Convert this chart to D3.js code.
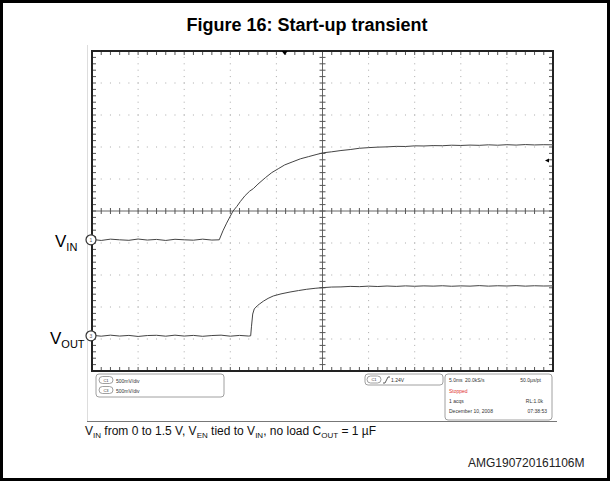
<!DOCTYPE html>
<html><head><meta charset="utf-8">
<script src="https://cdn.jsdelivr.net/npm/d3@7"></script>
<style>body{margin:0;background:#fff} text{font-family:Arial,"Liberation Sans",sans-serif}</style>
</head><body><svg id="c" width="612" height="484"></svg>
<script>
// ---- data (time in ms, 5 ms/div; volts, 500 mV/div) ----
const timeGrid = [0,5,10,15,20,25,30,35,40,45,50];
const divGrid = [-5,-4,-3,-2,-1,0,1,2,3,4,5];
const vinTime = [0,1,2,3,4,5,6,7,8,9,10,11,12,13,13.8,14.2,14.6,15.0,15.3,15.7,16.1,16.6,17.1,17.5,18.0,18.8,19.5,20.2,20.9,21.7,22.6,23.5,24.4,25.1,26,27,28,29,30,31,32,33,34,35,36,37,38,39,40,41,42,43,44,45,46,47,48,49,50];
const vinVolts = [0.005,-0.01,0.01,0,-0.008,0.012,-0.004,0.006,-0.01,0.008,0,-0.006,0.01,-0.004,0.0,0.14,0.26,0.37,0.45,0.52,0.6,0.69,0.76,0.8,0.87,0.97,1.05,1.11,1.17,1.215,1.265,1.3,1.335,1.36,1.375,1.395,1.41,1.43,1.44,1.448,1.452,1.46,1.458,1.468,1.466,1.472,1.47,1.478,1.474,1.48,1.476,1.484,1.478,1.486,1.48,1.488,1.482,1.486,1.484];
const voutTime = [0,1,2,3,4,5,6,7,8,9,10,11,12,13,14,15,16,17,17.21,17.3,17.43,17.6,17.93,18.2,18.58,19.1,19.66,20.5,21.48,22.4,23.29,24.2,25.05,26,27,28,29,30,31,32,33,34,35,36,37,38,39,40,41,42,43,44,45,46,47,48,49,50];
const voutVolts = [0.008,-0.006,0.01,-0.004,0.006,-0.01,0.004,0.008,-0.006,0.01,-0.004,0.006,-0.008,0.004,0.01,-0.006,0.006,-0.004,0.0,0.15,0.34,0.42,0.47,0.5,0.54,0.585,0.622,0.655,0.684,0.707,0.727,0.742,0.753,0.762,0.764,0.772,0.768,0.776,0.77,0.778,0.772,0.78,0.774,0.78,0.776,0.782,0.774,0.78,0.776,0.784,0.776,0.782,0.778,0.784,0.776,0.782,0.778,0.78];
const channelLabels = ["IN","OUT"];

const svg = d3.select("#c");
const L=92, R=553, T=51, B=371;
const x = d3.scaleLinear().domain([0,50]).range([L,R]);
const yDiv = d3.scaleLinear().domain([-5,5]).range([B,T]);
const vPerDiv = 0.5, vinOff = -0.9, voutOff = -3.9;
const yVin = v => yDiv(v/vPerDiv + vinOff);
const yVout = v => yDiv(v/vPerDiv + voutOff);

// outer frame
svg.append("rect").attr("x",1.5).attr("y",1.5).attr("width",607).attr("height",478)
  .attr("fill","none").attr("stroke","#000").attr("stroke-width",3);

svg.append("text").attr("x",307).attr("y",31).attr("text-anchor","middle")
  .attr("font-size",18).attr("font-weight","bold").text("Figure 16: Start-up transient");

// screenshot border lines
svg.append("line").attr("x1",87.5).attr("x2",87.5).attr("y1",45).attr("y2",421).attr("stroke","#ddd");
svg.append("line").attr("x1",87).attr("x2",557).attr("y1",421.5).attr("y2",421.5).attr("stroke","#777");

const g = svg.append("g");
const xStep = (x(5)-x(0))/5, yStep = (yDiv(0)-yDiv(1))/5;
// dotted grid
timeGrid.slice(1,-1).forEach(t=>{ if(t===25) return;
  g.append("line").attr("x1",x(t)).attr("x2",x(t)).attr("y1",T).attr("y2",B)
   .attr("stroke","#aaa").attr("stroke-dasharray",`1 ${yStep-1}`).attr("stroke-dashoffset",0.5);
});
divGrid.slice(1,-1).forEach(d=>{ if(d===0) return;
  g.append("line").attr("x1",L).attr("x2",R).attr("y1",yDiv(d)).attr("y2",yDiv(d))
   .attr("stroke","#aaa").attr("stroke-dasharray",`1 ${xStep-1}`).attr("stroke-dashoffset",0.5);
});
// center lines
g.append("line").attr("x1",x(25)).attr("x2",x(25)).attr("y1",T).attr("y2",B).attr("stroke","#666");
g.append("line").attr("x1",L).attr("x2",R).attr("y1",yDiv(0)).attr("y2",yDiv(0)).attr("stroke","#666");
// minor ticks
const xMinor = d3.range(0,50.01,1), yMinor = d3.range(-5,5.01,0.2);
xMinor.forEach(t=>{
  g.append("line").attr("x1",x(t)).attr("x2",x(t)).attr("y1",T).attr("y2",T+4).attr("stroke","#555");
  g.append("line").attr("x1",x(t)).attr("x2",x(t)).attr("y1",B-4).attr("y2",B).attr("stroke","#555");
  g.append("line").attr("x1",x(t)).attr("x2",x(t)).attr("y1",yDiv(0)-3).attr("y2",yDiv(0)+3).attr("stroke","#555");
});
yMinor.forEach(d=>{
  g.append("line").attr("x1",L).attr("x2",L+4).attr("y1",yDiv(d)).attr("y2",yDiv(d)).attr("stroke","#555");
  g.append("line").attr("x1",R-4).attr("x2",R).attr("y1",yDiv(d)).attr("y2",yDiv(d)).attr("stroke","#555");
  g.append("line").attr("x1",x(25)-3).attr("x2",x(25)+3).attr("y1",yDiv(d)).attr("y2",yDiv(d)).attr("stroke","#555");
});
g.append("rect").attr("x",L).attr("y",T).attr("width",R-L).attr("height",B-T)
  .attr("fill","none").attr("stroke","#222").attr("stroke-width",2);

// traces
const lineVin = d3.line().x((d,i)=>x(vinTime[i])).y(d=>yVin(d));
const lineVout = d3.line().x((d,i)=>x(voutTime[i])).y(d=>yVout(d));
g.append("path").attr("d",lineVin(vinVolts)).attr("fill","none").attr("stroke","#444").attr("stroke-width",1);
g.append("path").attr("d",lineVout(voutVolts)).attr("fill","none").attr("stroke","#444").attr("stroke-width",1);

// trigger markers
g.append("path").attr("d",`M${x(20.9)-3},${T} L${x(20.9)+3},${T} L${x(20.9)},${T+4} Z`).attr("fill","#000");
g.append("path").attr("d",`M${R-8},${yVin(1.24)} L${R-4},${yVin(1.24)-2} L${R-4},${yVin(1.24)+2} Z`).attr("fill","#000");

// channel markers
[[yVin(0),"1"],[yVout(0),"3"]].forEach(([yy,lab])=>{
  g.append("circle").attr("cx",L-1).attr("cy",yy).attr("r",5).attr("fill","#fff").attr("stroke","#333").attr("stroke-width",1.2);
  g.append("text").attr("x",L-1).attr("y",yy+2).attr("text-anchor","middle").attr("font-size",5).attr("fill","#555").text(lab);
});

// channel labels
const lab1 = svg.append("text").attr("x",55).attr("y",247).attr("font-size",17);
lab1.append("tspan").text("V"); lab1.append("tspan").attr("font-size",11).attr("dy",4).text(channelLabels[0]);
const lab2 = svg.append("text").attr("x",50).attr("y",344).attr("font-size",17);
lab2.append("tspan").text("V"); lab2.append("tspan").attr("font-size",11).attr("dy",4).text(channelLabels[1]);

// info bar
const info = svg.append("g").attr("font-size",5).attr("fill","#333");
function pill(px,py,t){
  info.append("rect").attr("x",px).attr("y",py).attr("width",14).attr("height",7).attr("rx",3.5)
    .attr("fill","#fff").attr("stroke","#888").attr("stroke-width",0.8);
  info.append("text").attr("x",px+7).attr("y",py+5).attr("text-anchor","middle").attr("font-size",4).text(t);
}
info.append("rect").attr("x",96).attr("y",374).attr("width",128).attr("height",23).attr("rx",3)
  .attr("fill","#fff").attr("stroke","#888").attr("stroke-width",0.8);
pill(99,376.5,"C1"); info.append("text").attr("x",116).attr("y",382.5).text("500mV/div");
pill(99,386.5,"C3"); info.append("text").attr("x",116).attr("y",392.5).text("500mV/div");
info.append("rect").attr("x",365).attr("y",374).attr("width",78).attr("height",11).attr("rx",3)
  .attr("fill","#fff").attr("stroke","#888").attr("stroke-width",0.8);
pill(367,376,"C1");
info.append("path").attr("d","M383,383 L385,383 L388,377 L390,377").attr("fill","none").attr("stroke","#333").attr("stroke-width",0.8);
info.append("text").attr("x",391).attr("y",382).text("1.24V");
info.append("rect").attr("x",445).attr("y",374).attr("width",107).attr("height",46).attr("rx",3)
  .attr("fill","#fff").attr("stroke","#888").attr("stroke-width",0.8);
info.append("text").attr("x",449).attr("y",382).text("5.0ms");
info.append("text").attr("x",465).attr("y",382).text("20.0kS/s");
info.append("text").attr("x",541).attr("y",382).attr("text-anchor","end").text("50.0µs/pt");
info.append("text").attr("x",449).attr("y",393).attr("fill","#e03030").text("Stopped");
info.append("text").attr("x",449).attr("y",403).text("1 acqs");
info.append("text").attr("x",543).attr("y",403).attr("text-anchor","end").text("RL:1.0k");
info.append("text").attr("x",449).attr("y",413).text("December 10, 2008");
info.append("text").attr("x",547).attr("y",413).attr("text-anchor","end").text("07:38:53");

// caption
const cap = svg.append("text").attr("x",85).attr("y",435).attr("font-size",12).attr("fill","#111");
cap.append("tspan").text("V");
cap.append("tspan").attr("font-size",8).attr("dy",3).text("IN");
cap.append("tspan").attr("dy",-3).text(" from 0 to 1.5 V, V");
cap.append("tspan").attr("font-size",8).attr("dy",3).text("EN");
cap.append("tspan").attr("dy",-3).text(" tied to V");
cap.append("tspan").attr("font-size",8).attr("dy",3).text("IN");
cap.append("tspan").attr("dy",-3).text(", no load C");
cap.append("tspan").attr("font-size",8).attr("dy",3).text("OUT");
cap.append("tspan").attr("dy",-3).text(" = 1 µF");

svg.append("text").attr("x",468).attr("y",467).attr("font-size",12).attr("fill","#222").text("AMG190720161106M");
</script></body></html>
